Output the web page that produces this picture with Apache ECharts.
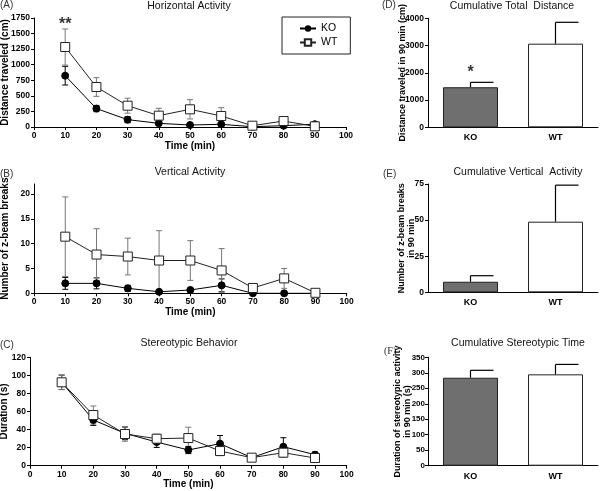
<!DOCTYPE html>
<html><head><meta charset="utf-8">
<script src="https://cdn.jsdelivr.net/npm/echarts@6/dist/echarts.min.js"></script>
<style>html,body{margin:0;padding:0;background:#fff}#c{width:600px;height:491px}</style>
</head><body><div id="c"></div>
<script>
const times = [10, 20, 30, 40, 50, 60, 70, 80, 90];
const koDist = [824, 296, 118, 59, 32, 43, 5, 21, 45];
const koDistErr = [150, 50, 50, 20, 15, 20, 5, 15, 15];
const wtDist = [1284, 642, 342, 182, 284, 177, 21, 96, 11];
const wtDistErr = [290, 150, 120, 118, 155, 133, 20, 64, 20];
const koVert = [2.0, 2.0, 1.0, 0.3, 0.67, 1.6, 0.0, 0.0, 0.0];
const koVertErr = [1.2, 1.1, 0.6, 0.2, 0.3, 1.3, 0.1, 0.1, 0];
const wtVert = [11.4, 7.8, 7.4, 6.6, 6.6, 4.6, 1.07, 3.0, 0.1];
const wtVertErr = [8.0, 5.2, 3.7, 6.0, 4.0, 4.4, 0.7, 2.0, 0.1];
const koStereo = [92.3, 50.6, 35.8, 26.2, 17.4, 24.4, 8.9, 21.0, 12.2];
const koStereoErr = [8, 6, 7, 6, 4, 9, 2, 10, 3];
const wtStereo = [92.3, 56.1, 35.1, 29.9, 30.6, 16.2, 8.9, 14.4, 8.5];
const wtStereoErr = [8, 10, 8, 5, 12, 5, 2, 5, 2];
const groups = ['KO', 'WT'];
const cumDist = [1470, 3068];
const cumDistErr = [180, 785];
const cumVert = [7.3, 48.9];
const cumVertErr = [4.2, 25.3];
const cumStereo = [284, 295];
const cumStereoErr = [24, 32];
const xTicks = [0, 10, 20, 30, 40, 50, 60, 70, 80, 90, 100];

const FONT = 'Liberation Sans, Arial, sans-serif';
const chart = echarts.init(document.getElementById('c'), null, {renderer: 'canvas'});

const gridBase = {containLabel: false, outerBoundsMode: 'none'};
const grids = [
  {left: 34, top: 18, width: 312, height: 109},
  {left: 34, top: 184, width: 312.7, height: 109.3},
  {left: 30, top: 357.3, width: 316.7, height: 108.4},
  {left: 428, top: 18.3, width: 170, height: 109},
  {left: 428, top: 184, width: 170, height: 108.3},
  {left: 428, top: 357.3, width: 170, height: 108.4}
].map(g => Object.assign({}, gridBase, g));

const labelBase = {color: '#000', fontSize: 8.5, fontWeight: 'bold', fontFamily: FONT, margin: 4,
  formatter: v => String(v)};
const nameStyle = {color: '#000', fontSize: 10, fontWeight: 'bold', fontFamily: FONT};
const axisBase = {
  axisLine: {show: true, lineStyle: {color: '#000', width: 1}},
  axisTick: {show: true, length: 3, inside: false, lineStyle: {color: '#000'}},
  splitLine: {show: false},
  axisLabel: labelBase,
  nameMoveOverlap: false,
  nameTextStyle: nameStyle
};

function timeAxis(gi) {
  return Object.assign({}, axisBase, {
    type: 'value', gridIndex: gi, min: xTicks[0], max: xTicks[xTicks.length - 1], interval: 10,
    name: 'Time (min)', nameLocation: 'middle', nameGap: 14
  });
}
function valAxis(gi, max, interval, name, gap, extra) {
  return Object.assign({}, axisBase, {
    type: 'value', gridIndex: gi, min: 0, max: max, interval: interval,
    name: name, nameLocation: 'middle', nameGap: gap, nameRotate: 90
  }, extra || {});
}
function catAxis(gi) {
  return Object.assign({}, axisBase, {
    type: 'category', gridIndex: gi, data: groups,
    axisTick: {show: false},
    axisLabel: Object.assign({}, labelBase, {formatter: null, margin: 6, fontSize: 9})
  });
}
const smallName = {nameTextStyle: Object.assign({}, nameStyle, {fontSize: 9, lineHeight: 10})};

function pairs(xs, ys, es) { return xs.map((x, i) => [x, ys[i], es[i]]); }

function errSeries(xi, data, color, capHalf) {
  return {
    type: 'custom', xAxisIndex: xi, yAxisIndex: xi, z: 1, silent: true,
    renderItem: function (params, api) {
      const x = api.value(0), y = api.value(1), e = api.value(2);
      const top = api.coord([x, y + e]);
      const bot = api.coord([x, Math.max(y - e, 0)]);
      const st = {stroke: color, lineWidth: 1};
      return {type: 'group', children: [
        {type: 'line', shape: {x1: top[0], y1: top[1], x2: bot[0], y2: bot[1]}, style: st},
        {type: 'line', shape: {x1: top[0] - capHalf, y1: top[1], x2: top[0] + capHalf, y2: top[1]}, style: st},
        {type: 'line', shape: {x1: bot[0] - capHalf, y1: bot[1], x2: bot[0] + capHalf, y2: bot[1]}, style: st}
      ]};
    },
    data: data, encode: {x: 0, y: 1}
  };
}
function barErrSeries(xi, vals, errs) {
  return {
    type: 'custom', xAxisIndex: xi, yAxisIndex: xi, z: 3, silent: true,
    renderItem: function (params, api) {
      const x = api.value(0), y = api.value(1), e = api.value(2);
      const base = api.coord([x, y]);
      const top = api.coord([x, y + e]);
      const st = {stroke: '#000', lineWidth: 1.2};
      return {type: 'group', children: [
        {type: 'line', shape: {x1: base[0], y1: base[1], x2: top[0], y2: top[1]}, style: st},
        {type: 'line', shape: {x1: top[0], y1: top[1], x2: top[0] + 23, y2: top[1]}, style: st}
      ]};
    },
    data: vals.map((v, i) => [i, v, errs[i]]), encode: {x: 0, y: 1}
  };
}
function koLine(xi, ys) {
  return {
    name: 'KO', type: 'line', xAxisIndex: xi, yAxisIndex: xi, z: 5,
    data: times.map((t, i) => [t, ys[i]]),
    symbol: 'circle', symbolSize: 7,
    lineStyle: {color: '#000', width: 1}, itemStyle: {color: '#000', borderColor: '#000'}
  };
}
function wtLine(xi, ys) {
  return {
    name: 'WT', type: 'line', xAxisIndex: xi, yAxisIndex: xi, z: 6,
    data: times.map((t, i) => [t, ys[i]]),
    symbol: 'rect', symbolSize: 9,
    lineStyle: {color: '#222', width: 1}, itemStyle: {color: '#fff', borderColor: '#222', borderWidth: 1}
  };
}
function barSeries(xi, vals) {
  return {
    type: 'bar', xAxisIndex: xi, yAxisIndex: xi, barWidth: 55, z: 2,
    data: vals.map((v, i) => ({value: v, itemStyle: {color: i === 0 ? '#6f6f6f' : '#fff', borderColor: '#222', borderWidth: 1}}))
  };
}
function starSeries(xi, pt, txt) {
  return {
    type: 'scatter', xAxisIndex: xi, yAxisIndex: xi, symbol: 'circle', symbolSize: 2,
    itemStyle: {color: 'rgba(0,0,0,0)'}, data: [pt], silent: true, z: 10,
    label: {show: true, formatter: txt, position: 'inside', color: '#000', fontSize: 16, fontWeight: 'bold', fontFamily: FONT}
  };
}

const titleStyle = {color: '#111', fontSize: 10.5, fontWeight: 'normal', fontFamily: FONT};
function title(text, cx, top) {
  return {text: text, left: cx, top: top, textAlign: 'center', textStyle: titleStyle, padding: 0};
}
function panelLabel(t, x, y, serif) {
  return {type: 'text', left: x, top: y, style: {text: t, fill: '#333', fontSize: 10, fontFamily: serif ? 'Liberation Serif, serif' : FONT}};
}

const option = {
  animation: false,
  backgroundColor: '#fff',
  title: [
    title('Horizontal Activity', 189, 1),
    title('Vertical Activity', 190, 167),
    title('Stereotypic Behavior', 189, 338),
    title('Cumulative Total  Distance', 512, 1),
    title('Cumulative Vertical  Activity', 518, 167),
    title('Cumulative Stereotypic Time', 518, 338)
  ],
  legend: {
    data: ['KO', 'WT'], orient: 'vertical', left: 282, top: 17,
    borderColor: '#222', borderWidth: 1, padding: [6, 13, 6, 17],
    itemWidth: 16, itemHeight: 8, itemGap: 3,
    textStyle: {color: '#000', fontSize: 10.5, fontFamily: FONT}
  },
  grid: grids,
  xAxis: [timeAxis(0), timeAxis(1), timeAxis(2), catAxis(3), catAxis(4), catAxis(5)],
  yAxis: [
    valAxis(0, 1750, 250, 'Distance traveled (cm)', 24),
    valAxis(1, 22, 5, 'Number of z-beam breaks', 24, {axisLabel: Object.assign({}, labelBase, {showMaxLabel: false})}),
    valAxis(2, 120, 20, 'Duration (s)', 21),
    valAxis(3, 4000, 1000, 'Distance traveled in 90 min (cm)', 20, smallName),
    valAxis(4, 75, 25, 'Number of z-beam breaks\nin 90 min', 11, smallName),
    valAxis(5, 350, 50, 'Duration of stereotypic activity\nin 90 min (s)', 15,
      Object.assign({axisLabel: Object.assign({}, labelBase, {fontSize: 8, margin: 3})}, smallName))
  ],
  series: [
    koLine(0, koDist), wtLine(0, wtDist),
    errSeries(0, pairs(times, koDist, koDistErr), '#000', 3),
    errSeries(0, pairs(times, wtDist, wtDistErr), '#777', 3),
    koLine(1, koVert), wtLine(1, wtVert),
    errSeries(1, pairs(times, koVert, koVertErr), '#000', 3),
    errSeries(1, pairs(times, wtVert, wtVertErr), '#777', 3),
    koLine(2, koStereo), wtLine(2, wtStereo),
    errSeries(2, pairs(times, koStereo, koStereoErr), '#000', 3),
    errSeries(2, pairs(times, wtStereo, wtStereoErr), '#777', 3),
    barSeries(3, cumDist), barErrSeries(3, cumDist, cumDistErr),
    barSeries(4, cumVert), barErrSeries(4, cumVert, cumVertErr),
    barSeries(5, cumStereo), barErrSeries(5, cumStereo, cumStereoErr),
    starSeries(0, [10, 1650], '**'),
    starSeries(3, [0, 2000], '*')
  ],
  graphic: [
    panelLabel('(A)', 0, 0), panelLabel('(B)', 0, 169), panelLabel('(C)', 0, 340),
    panelLabel('(D)', 382, 0), panelLabel('(E)', 383, 169), panelLabel('(F)', 384, 346, true)
  ]
};
chart.setOption(option);
</script></body></html>
